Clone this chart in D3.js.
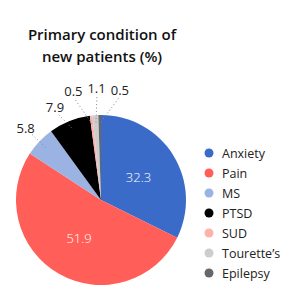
<!DOCTYPE html>
<html>
<head>
<meta charset="utf-8">
<script src="https://cdn.jsdelivr.net/npm/d3@7"></script>
<style>
  html, body { margin: 0; padding: 0; background: #fff; }
  svg { display: block; }
</style>
</head>
<body>
<svg id="chart" width="290" height="300"></svg>
<script>
const titleLines = ["Primary condition of", "new patients (%)"];
const categories = ["Anxiety", "Pain", "MS", "PTSD", "SUD", "Tourette’s", "Epilepsy"];
const values = [32.3, 51.9, 5.8, 7.9, 0.5, 1.1, 0.5];
const colors = ["#3b6bc8", "#ff5f58", "#9bb3e3", "#000000", "#ffb2ac", "#cdcdcd", "#676767"];

const svg = d3.select("#chart");
const font = "'Open Sans', sans-serif";

// Title
svg.append("g").selectAll("text").data(titleLines).join("text")
  .attr("x", 102).attr("y", (d, i) => 40 + i * 22)
  .attr("text-anchor", "middle")
  .attr("font-family", font).attr("font-weight", 600).attr("font-size", 15)
  .attr("fill", "#111")
  .text(d => d);

const cx = 101, cy = 200, R = 85;
const data = categories.map((c, i) => ({ cat: c, value: values[i], color: colors[i] }));
const pie = d3.pie().sort(null).value(d => d.value);
const arcs = pie(data);
const arc = d3.arc().innerRadius(0).outerRadius(R);

const g = svg.append("g").attr("transform", `translate(${cx},${cy})`);
g.selectAll("path").data(arcs).join("path")
  .attr("d", arc).attr("fill", d => d.data.color);

// Inside labels for large slices
const inner = d3.arc().innerRadius(R * 0.52).outerRadius(R * 0.52);
g.selectAll("text.in").data(arcs.filter(a => a.data.value > 20)).join("text")
  .attr("class", "in")
  .attr("transform", d => { const c = inner.centroid(d); return `translate(${c[0]},${c[1]})`; })
  .attr("text-anchor", "middle").attr("dominant-baseline", "central")
  .attr("font-family", font).attr("font-size", 13).attr("font-weight", 300)
  .attr("fill", "#fff")
  .text(d => d.data.value);

// Outside labels for small slices with spread
const small = arcs.filter(a => a.data.value <= 20).map(a => ({
  a, mid: (a.startAngle + a.endAngle) / 2
}));
small.forEach(s => s.ang = s.mid);
const gap = 12 * Math.PI / 180;
for (let it = 0; it < 60; it++) {
  for (let i = 0; i < small.length - 1; i++) {
    const d = small[i + 1].ang - small[i].ang;
    if (d < gap) {
      const push = (gap - d) / 2;
      small[i].ang -= push; small[i + 1].ang += push;
    }
  }
}
const polar = (ang, r) => [Math.sin(ang) * r, -Math.cos(ang) * r];
const labelR = d => d.a.data.value < 2 ? R + 27 : R + 19;

g.selectAll("line.lead").data(small).join("line")
  .attr("class", "lead")
  .attr("x1", d => polar(d.ang, labelR(d) - 9)[0])
  .attr("y1", d => polar(d.ang, labelR(d) - 9)[1])
  .attr("x2", d => polar(d.mid, R * 0.9)[0])
  .attr("y2", d => polar(d.mid, R * 0.9)[1])
  .attr("stroke", "#888").attr("stroke-width", 1)
  .attr("stroke-dasharray", "1,2.5");

g.selectAll("text.out").data(small).join("text")
  .attr("class", "out")
  .attr("x", d => polar(d.ang, labelR(d))[0])
  .attr("y", d => polar(d.ang, labelR(d))[1])
  .attr("text-anchor", "middle").attr("dominant-baseline", "central")
  .attr("font-family", font).attr("font-size", 13)
  .attr("fill", "#222")
  .text(d => d.a.data.value);

// Legend
const legY = d3.scalePoint().domain(categories).range([153, 273]);
const leg = svg.append("g").selectAll("g").data(data).join("g")
  .attr("transform", d => `translate(209,${legY(d.cat)})`);
leg.append("circle").attr("r", 4.5).attr("fill", d => d.color);
leg.append("text").attr("x", 13).attr("dominant-baseline", "central")
  .attr("font-family", font).attr("font-size", 12.5).attr("fill", "#222")
  .text(d => d.cat);
</script>
</body>
</html>
